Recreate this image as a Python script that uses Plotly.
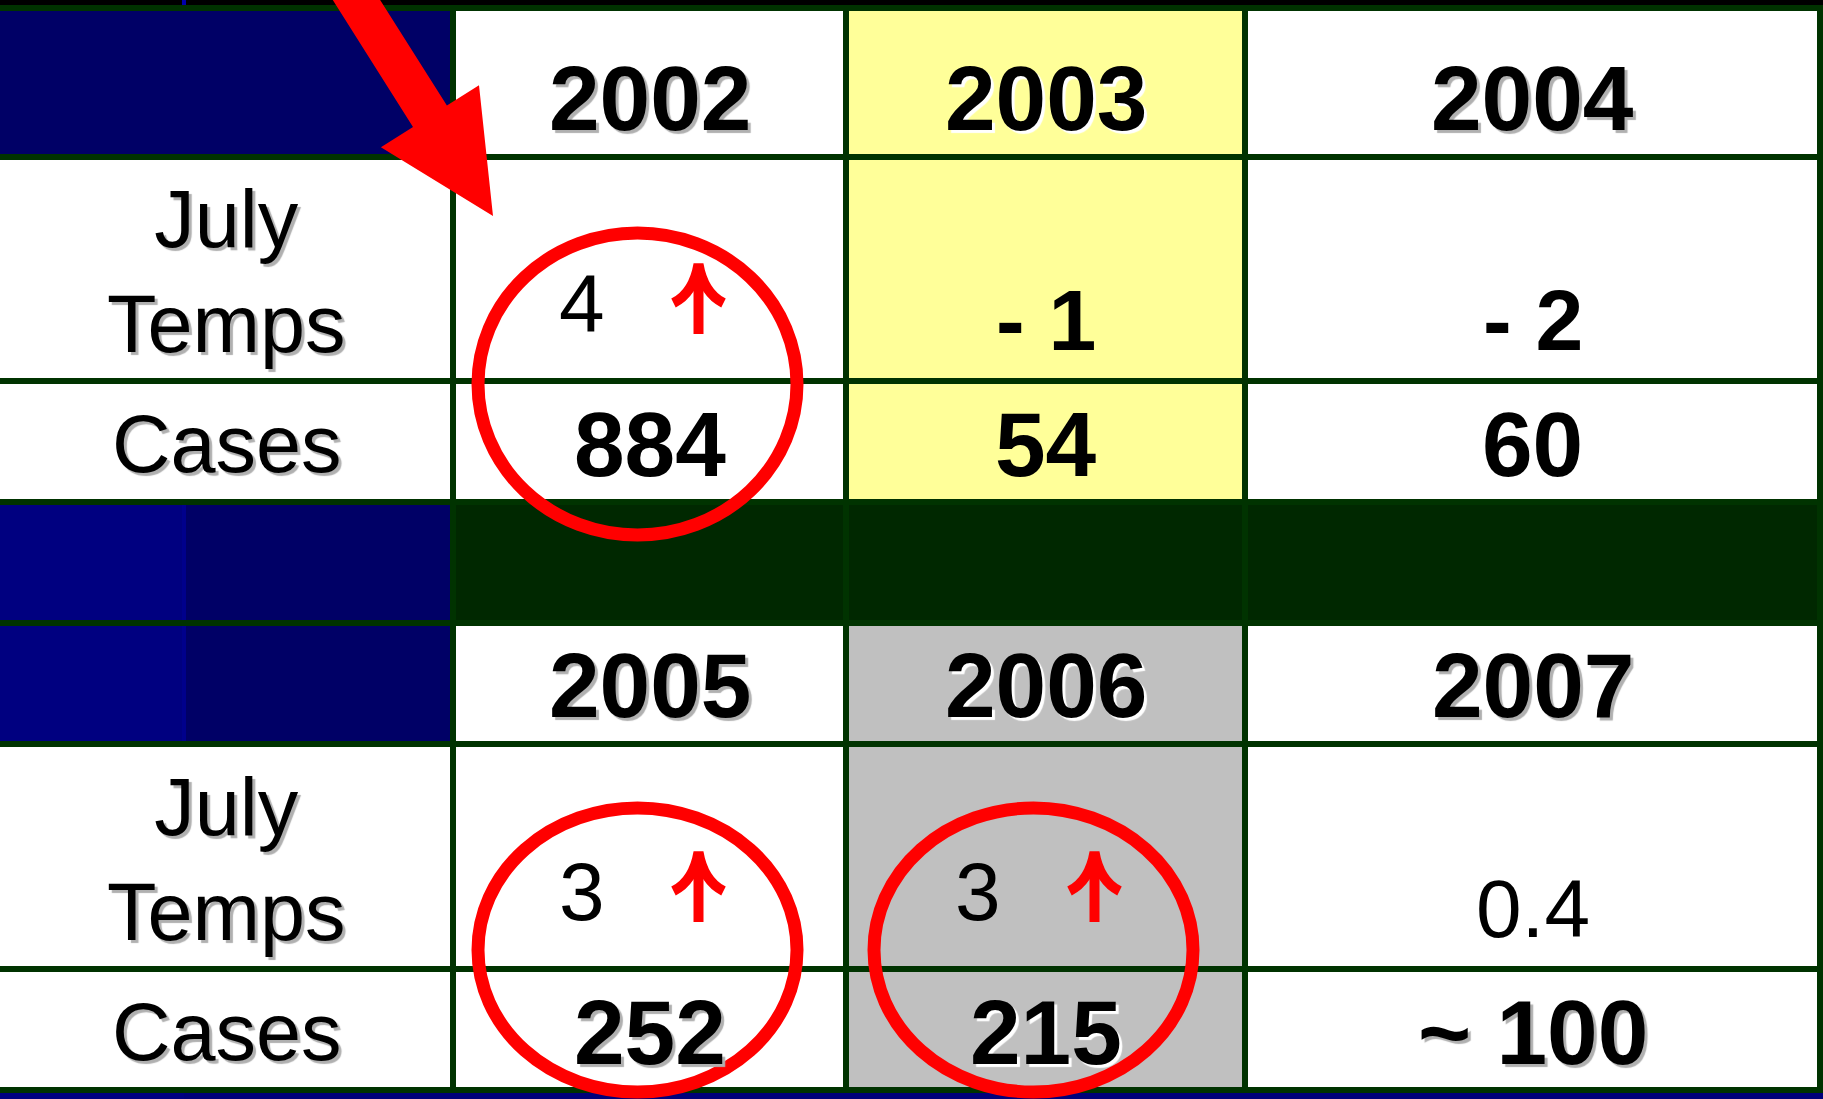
import math
import plotly.graph_objects as go

# ---------------- data ----------------
years_top = ["2002", "2003", "2004"]
temps_top = ["4", "- 1", "- 2"]
cases_top = ["884", "54", "60"]
temps_up_top = [True, False, False]
circled_top = [True, False, False]
highlight_top = [None, "yellow", None]

years_bottom = ["2005", "2006", "2007"]
temps_bottom = ["3", "3", "0.4"]
cases_bottom = ["252", "215", "~ 100"]
temps_up_bottom = [True, True, False]
circled_bottom = [True, True, False]
highlight_bottom = [None, "gray", None]

label_temps = "July<br>Temps"
label_cases = "Cases"

# ---------------- styles / geometry ----------------
W, H = 1823, 1099
FONT = "Liberation Sans, Arial, Helvetica, sans-serif"
GRID = "#003300"
BAND = "#002800"
NAVY_D = "#000066"
NAVY_L = "#000080"
RED = "#ff0000"
FILLS = {None: "#ffffff", "yellow": "#ffff99", "gray": "#c0c0c0"}
SHADOWS = {None: "#b0b0b0", "yellow": "#ffffff", "gray": "#ffffff"}

col_x = [0, 453, 846, 1245, 1820]
split_x = 184
GRID_W = 6
BOLD_SIZE = 91
TEMP_BOLD_SIZE = 86
REG_SIZE = 82
LABEL_SIZE = 81

blocks = [
    dict(years=years_top, temps=temps_top, cases=cases_top, up=temps_up_top,
         circ=circled_top, hl=highlight_top, rows=[8, 157, 381, 502],
         ell_dy=3, ell_ry=151, case_shadow=False, split_header=False),
    dict(years=years_bottom, temps=temps_bottom, cases=cases_bottom, up=temps_up_bottom,
         circ=circled_bottom, hl=highlight_bottom, rows=[623, 744, 969, 1090],
         ell_dy=-19, ell_ry=142, case_shadow=True, split_header=True),
]

shapes = []
annotations = []


def rect(x0, y0, x1, y1, color):
    shapes.append(dict(type="rect", xref="x", yref="y", x0=x0, y0=y0, x1=x1, y1=y1,
                       fillcolor=color, line=dict(width=0), layer="above"))


def hline(y, x0, x1, color=GRID, w=GRID_W):
    shapes.append(dict(type="line", xref="x", yref="y", x0=x0, x1=x1, y0=y, y1=y,
                       line=dict(color=color, width=w)))


def vline(x, y0, y1, color=GRID, w=GRID_W):
    shapes.append(dict(type="line", xref="x", yref="y", x0=x, x1=x, y0=y0, y1=y1,
                       line=dict(color=color, width=w)))


def text(x, y, s, size, bold, shadow=None):
    font = dict(family=FONT, size=size, color="black", weight="bold" if bold else "normal")
    if shadow:
        font["shadow"] = "3px 3px 1px " + shadow
    annotations.append(dict(x=x, y=y, xref="x", yref="y", text=s, showarrow=False,
                            xanchor="center", yanchor="middle", font=font))


# background strips
rect(0, 0, W, 5, "#000000")
rect(182, 0, 186, 5, "#0000aa")
rect(0, 1093, split_x, H, NAVY_L)
rect(split_x, 1093, W, H, "#00007a")

for b in blocks:
    r = b["rows"]
    # left header cell (blue)
    if b["split_header"]:
        rect(0, r[0], split_x, r[1], NAVY_L)
        rect(split_x, r[0], col_x[1], r[1], NAVY_D)
        rect(split_x - 2, r[0], split_x + 2, r[1], "#00008c")
    else:
        rect(0, r[0], col_x[1], r[1], NAVY_D)
    # label cells
    rect(0, r[1], col_x[1], r[3], "#ffffff")
    # data cells
    for j in range(3):
        rect(col_x[j + 1], r[0], col_x[j + 2], r[3], FILLS[b["hl"][j]])

# middle band
rect(0, 502, split_x, 623, NAVY_L)
rect(split_x, 502, col_x[1], 623, NAVY_D)
rect(split_x - 2, 502, split_x + 2, 623, "#00008c")
rect(col_x[1], 502, W, 623, BAND)

# grid lines
for b in blocks:
    for y in b["rows"]:
        hline(y, 0, W)
for x in col_x[1:]:
    vline(x, 5, 1093)

# texts, ellipses, arrows
for b in blocks:
    r = b["rows"]
    # row labels
    text(col_x[1] / 2, r[2] - 59 - 51, label_temps, LABEL_SIZE, False, SHADOWS[None])
    text(col_x[1] / 2, r[3] - 58, label_cases, LABEL_SIZE, False, SHADOWS[None])
    for j in range(3):
        cx = (col_x[j + 1] + col_x[j + 2]) / 2
        hl = b["hl"][j]
        text(cx, r[1] - 59, b["years"][j], BOLD_SIZE, True, SHADOWS[hl])
        if b["up"][j]:
            cy = r[2] - 78
            text(cx - 68, cy, b["temps"][j], REG_SIZE, False)
            ax = cx + 49
            shapes.append(dict(type="path", xref="x", yref="y",
                               path=f"M {ax},{cy + 31} L {ax},{cy - 34}",
                               line=dict(color=RED, width=10)))
            shapes.append(dict(type="path", xref="x", yref="y",
                               path=(f"M {ax - 25},{cy} Q {ax - 5},{cy - 10} {ax},{cy - 39} "
                                     f"Q {ax + 5},{cy - 10} {ax + 25},{cy}"),
                               line=dict(color=RED, width=10)))
        else:
            bold_t = not b["temps"][j][0].isdigit()
            text(cx, r[2] - 61, b["temps"][j], TEMP_BOLD_SIZE if bold_t else REG_SIZE, bold_t)
        text(cx, r[3] - 58, b["cases"][j], BOLD_SIZE, True,
             SHADOWS[hl] if b["case_shadow"] else None)
        if b["circ"][j]:
            ex = cx - 12
            ey = r[2] + b["ell_dy"]
            rx, ry = 159.5, b["ell_ry"]
            shapes.append(dict(type="circle", xref="x", yref="y",
                               x0=ex - rx, x1=ex + rx, y0=ey - ry, y1=ey + ry,
                               line=dict(color=RED, width=13)))

# big red pointer arrow aimed at the 2002 temperature cell
tip = (col_x[1] + 40, blocks[0]["rows"][1] + 59)
ang = math.radians(57.7)
u = (math.cos(ang), math.sin(ang))
n = (-u[1], u[0])
head_len, head_hw, shaft_hw, total = 118, 58, 20, 320
base = (tip[0] - head_len * u[0], tip[1] - head_len * u[1])
tail = (tip[0] - total * u[0], tip[1] - total * u[1])


def p(pt, k):
    return (pt[0] + n[0] * k, pt[1] + n[1] * k)


pts = [p(tail, shaft_hw), p(base, shaft_hw), p(base, head_hw), tip,
       p(base, -head_hw), p(base, -shaft_hw), p(tail, -shaft_hw)]
path = "M " + " L ".join(f"{x:.1f},{y:.1f}" for x, y in pts) + " Z"
shapes.append(dict(type="path", xref="x", yref="y", path=path,
                   fillcolor=RED, line=dict(width=0)))

fig = go.Figure()
fig.add_trace(go.Scatter(x=[0, W], y=[0, H], mode="markers",
                         marker=dict(opacity=0), hoverinfo="skip", showlegend=False))
fig.update_layout(
    width=W, height=H, margin=dict(l=0, r=0, t=0, b=0),
    paper_bgcolor="white", plot_bgcolor="white",
    xaxis=dict(range=[0, W], visible=False, fixedrange=True),
    yaxis=dict(range=[H, 0], visible=False, fixedrange=True),
    shapes=shapes, annotations=annotations, showlegend=False,
)
fig.write_html("out.html", config=dict(displayModeBar=False),
               post_script="document.body.style.margin='0';document.body.style.overflow='hidden';")
